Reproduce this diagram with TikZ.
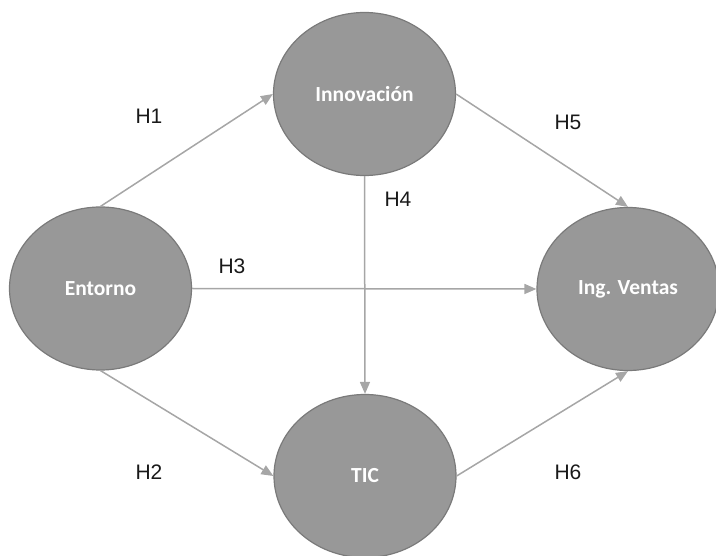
\documentclass[tikz,border=0pt]{standalone}
\usepackage{fontspec}
\setmainfont{Liberation Sans}
\newfontfamily\calib{Carlito}
\usetikzlibrary{shapes.geometric,arrows.meta}
\definecolor{nodefill}{HTML}{989898}
\definecolor{nodeline}{HTML}{7A7A7A}
\definecolor{arrowcol}{HTML}{A6A6A6}
\tikzset{
  var/.style={ellipse, draw=nodeline, line width=1.2pt, fill=nodefill,
    minimum width=182pt, minimum height=163pt, inner sep=0pt,
    text=white, font=\calib\bfseries\fontsize{21.5}{24}\selectfont},
  link/.style={draw=arrowcol, line width=1.5pt, -{Triangle[length=12pt,width=10pt]}},
  hyp/.style={font=\fontsize{21}{24}\selectfont, text=black!90}
}
\begin{document}
\begin{tikzpicture}[x=1pt,y=-1pt]
\useasboundingbox (0,0) rectangle (716,556);
\node[var] (inn) at (364.5,94) {Innovación};
\node[var] (ent) at (100.5,288.5) {Entorno};
\node[var] (ven) at (628,289) {Ing. Ventas};
\node[var] (tic) at (365,476) {TIC};
\draw[link] (ent.north) -- (inn.west);
\draw[link] (ent.south) -- (tic.west);
\draw[link] (ent.east) -- (ven.west);
\draw[link] (inn.south) -- (tic.north);
\draw[link] (inn.east) -- (ven.north);
\draw[link] (tic.east) -- (ven.south);
\node[hyp] (h1) at (149,116) {H1};
\node[hyp] (h2) at (149,472) {H2};
\node[hyp] (h3) at (232,266) {H3};
\node[hyp] (h4) at (398,199) {H4};
\node[hyp] (h5) at (568,122) {H5};
\node[hyp] (h6) at (568,472) {H6};
\end{tikzpicture}
\end{document}
